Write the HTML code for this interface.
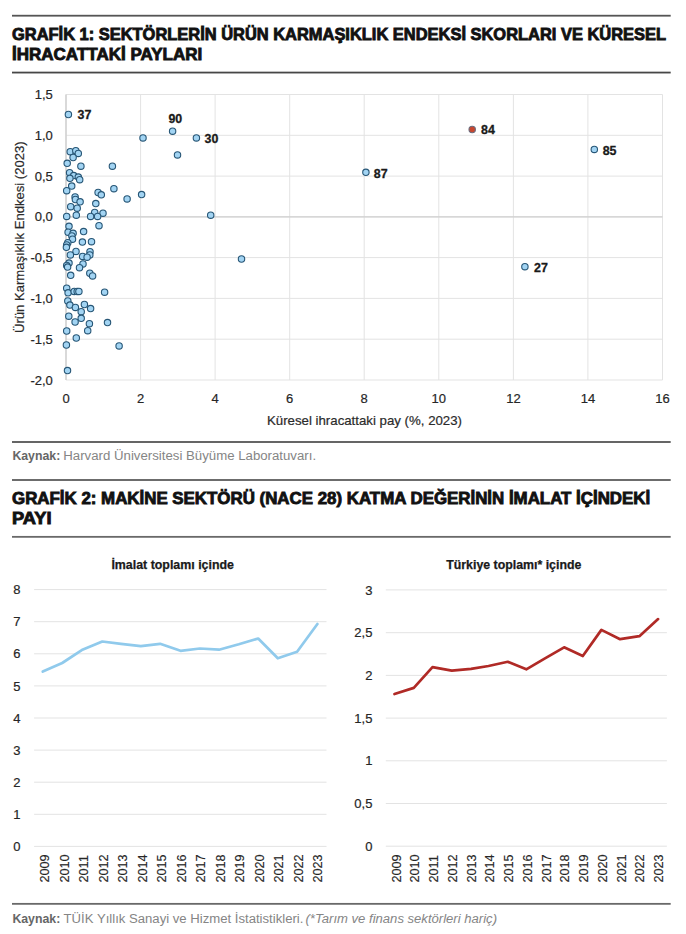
<!DOCTYPE html>
<html><head><meta charset="utf-8"><title>Grafik</title>
<style>
html,body{margin:0;padding:0;background:#fff;}
body{width:686px;height:934px;overflow:hidden;position:relative;font-family:"Liberation Sans",sans-serif;}
svg{position:absolute;left:0;top:0;}
</style></head><body>
<svg width="686" height="934" viewBox="0 0 686 934">

<rect x="12" y="14.80" width="658.7" height="1.8" fill="#555"/>
<rect x="12" y="71.66" width="658.7" height="1.8" fill="#474747"/>
<rect x="12" y="441.10" width="658.7" height="1.8" fill="#555"/>
<rect x="12" y="479.10" width="658.7" height="1.8" fill="#5c5c5c"/>
<rect x="12" y="535.95" width="658.7" height="1.8" fill="#696969"/>
<rect x="12" y="902.95" width="658.7" height="1.8" fill="#696969"/>
<text x="12" y="39.6" font-family="Liberation Sans, sans-serif" font-weight="bold" font-size="16.3" fill="#111" stroke="#111" stroke-width="0.85" textLength="654" lengthAdjust="spacingAndGlyphs">GRAFİK 1: SEKTÖRLERİN ÜRÜN KARMAŞIKLIK ENDEKSİ SKORLARI VE KÜRESEL</text>
<text x="12" y="59.6" font-family="Liberation Sans, sans-serif" font-weight="bold" font-size="16.3" fill="#111" stroke="#111" stroke-width="0.85" textLength="190.3" lengthAdjust="spacingAndGlyphs">İHRACATTAKİ PAYLARI</text>
<text x="12" y="504.1" font-family="Liberation Sans, sans-serif" font-weight="bold" font-size="16.3" fill="#111" stroke="#111" stroke-width="0.85" textLength="638.2" lengthAdjust="spacingAndGlyphs">GRAFİK 2: MAKİNE SEKTÖRÜ (NACE 28) KATMA DEĞERİNİN İMALAT İÇİNDEKİ</text>
<text x="12" y="524.4" font-family="Liberation Sans, sans-serif" font-weight="bold" font-size="16.3" fill="#111" stroke="#111" stroke-width="0.85" textLength="39.6" lengthAdjust="spacingAndGlyphs">PAYI</text>
<line x1="66.0" y1="94.5" x2="66.0" y2="380" stroke="#e3e3e3" stroke-width="1"/>
<line x1="140.6" y1="94.5" x2="140.6" y2="380" stroke="#e3e3e3" stroke-width="1"/>
<line x1="215.1" y1="94.5" x2="215.1" y2="380" stroke="#e3e3e3" stroke-width="1"/>
<line x1="289.7" y1="94.5" x2="289.7" y2="380" stroke="#e3e3e3" stroke-width="1"/>
<line x1="364.2" y1="94.5" x2="364.2" y2="380" stroke="#e3e3e3" stroke-width="1"/>
<line x1="438.8" y1="94.5" x2="438.8" y2="380" stroke="#e3e3e3" stroke-width="1"/>
<line x1="513.4" y1="94.5" x2="513.4" y2="380" stroke="#e3e3e3" stroke-width="1"/>
<line x1="587.9" y1="94.5" x2="587.9" y2="380" stroke="#e3e3e3" stroke-width="1"/>
<line x1="662.5" y1="94.5" x2="662.5" y2="380" stroke="#e3e3e3" stroke-width="1"/>
<line x1="66" y1="94.5" x2="662.5" y2="94.5" stroke="#e3e3e3" stroke-width="1"/>
<line x1="66" y1="135.3" x2="662.5" y2="135.3" stroke="#e3e3e3" stroke-width="1"/>
<line x1="66" y1="176.1" x2="662.5" y2="176.1" stroke="#e3e3e3" stroke-width="1"/>
<line x1="66" y1="216.9" x2="662.5" y2="216.9" stroke="#e3e3e3" stroke-width="1"/>
<line x1="66" y1="257.6" x2="662.5" y2="257.6" stroke="#e3e3e3" stroke-width="1"/>
<line x1="66" y1="298.4" x2="662.5" y2="298.4" stroke="#e3e3e3" stroke-width="1"/>
<line x1="66" y1="339.2" x2="662.5" y2="339.2" stroke="#e3e3e3" stroke-width="1"/>
<line x1="66" y1="380.0" x2="662.5" y2="380.0" stroke="#e3e3e3" stroke-width="1"/>
<line x1="66" y1="216.9" x2="662.5" y2="216.9" stroke="#cfcfcf" stroke-width="1.4"/>
<line x1="66" y1="94.5" x2="66" y2="380" stroke="#cfcfcf" stroke-width="1.4"/>
<text x="52.8" y="99.0" font-family="Liberation Sans, sans-serif" font-size="13" fill="#262626" stroke="#262626" stroke-width="0.2" text-anchor="end">1,5</text>
<text x="52.8" y="139.8" font-family="Liberation Sans, sans-serif" font-size="13" fill="#262626" stroke="#262626" stroke-width="0.2" text-anchor="end">1,0</text>
<text x="52.8" y="180.6" font-family="Liberation Sans, sans-serif" font-size="13" fill="#262626" stroke="#262626" stroke-width="0.2" text-anchor="end">0,5</text>
<text x="52.8" y="221.4" font-family="Liberation Sans, sans-serif" font-size="13" fill="#262626" stroke="#262626" stroke-width="0.2" text-anchor="end">0,0</text>
<text x="52.8" y="262.1" font-family="Liberation Sans, sans-serif" font-size="13" fill="#262626" stroke="#262626" stroke-width="0.2" text-anchor="end">-0,5</text>
<text x="52.8" y="302.9" font-family="Liberation Sans, sans-serif" font-size="13" fill="#262626" stroke="#262626" stroke-width="0.2" text-anchor="end">-1,0</text>
<text x="52.8" y="343.7" font-family="Liberation Sans, sans-serif" font-size="13" fill="#262626" stroke="#262626" stroke-width="0.2" text-anchor="end">-1,5</text>
<text x="52.8" y="384.5" font-family="Liberation Sans, sans-serif" font-size="13" fill="#262626" stroke="#262626" stroke-width="0.2" text-anchor="end">-2,0</text>
<text x="66.0" y="403.1" font-family="Liberation Sans, sans-serif" font-size="13" fill="#262626" stroke="#262626" stroke-width="0.2" text-anchor="middle">0</text>
<text x="140.6" y="403.1" font-family="Liberation Sans, sans-serif" font-size="13" fill="#262626" stroke="#262626" stroke-width="0.2" text-anchor="middle">2</text>
<text x="215.1" y="403.1" font-family="Liberation Sans, sans-serif" font-size="13" fill="#262626" stroke="#262626" stroke-width="0.2" text-anchor="middle">4</text>
<text x="289.7" y="403.1" font-family="Liberation Sans, sans-serif" font-size="13" fill="#262626" stroke="#262626" stroke-width="0.2" text-anchor="middle">6</text>
<text x="364.2" y="403.1" font-family="Liberation Sans, sans-serif" font-size="13" fill="#262626" stroke="#262626" stroke-width="0.2" text-anchor="middle">8</text>
<text x="438.8" y="403.1" font-family="Liberation Sans, sans-serif" font-size="13" fill="#262626" stroke="#262626" stroke-width="0.2" text-anchor="middle">10</text>
<text x="513.4" y="403.1" font-family="Liberation Sans, sans-serif" font-size="13" fill="#262626" stroke="#262626" stroke-width="0.2" text-anchor="middle">12</text>
<text x="587.9" y="403.1" font-family="Liberation Sans, sans-serif" font-size="13" fill="#262626" stroke="#262626" stroke-width="0.2" text-anchor="middle">14</text>
<text x="662.5" y="403.1" font-family="Liberation Sans, sans-serif" font-size="13" fill="#262626" stroke="#262626" stroke-width="0.2" text-anchor="middle">16</text>
<text x="267" y="424.9" font-family="Liberation Sans, sans-serif" font-size="13" fill="#2b2b2b" stroke="#2b2b2b" stroke-width="0.2" textLength="195" lengthAdjust="spacingAndGlyphs">Küresel ihracattaki pay (%, 2023)</text>
<text transform="translate(24.1,237.2) rotate(-90)" x="0" y="0" font-family="Liberation Sans, sans-serif" font-size="13" fill="#2b2b2b" stroke="#2b2b2b" stroke-width="0.2" text-anchor="middle" textLength="191.5" lengthAdjust="spacingAndGlyphs">Ürün Karmaşıklık Endkesi (2023)</text>
<circle cx="68.4" cy="114.5" r="3.2" fill="#a2d4f3" stroke="#275676" stroke-width="1.1"/>
<circle cx="143" cy="137.9" r="3.2" fill="#a2d4f3" stroke="#275676" stroke-width="1.1"/>
<circle cx="172.6" cy="131.2" r="3.2" fill="#a2d4f3" stroke="#275676" stroke-width="1.1"/>
<circle cx="196.4" cy="137.9" r="3.2" fill="#a2d4f3" stroke="#275676" stroke-width="1.1"/>
<circle cx="177.5" cy="154.9" r="3.2" fill="#a2d4f3" stroke="#275676" stroke-width="1.1"/>
<circle cx="141.6" cy="194.6" r="3.2" fill="#a2d4f3" stroke="#275676" stroke-width="1.1"/>
<circle cx="127.1" cy="198.9" r="3.2" fill="#a2d4f3" stroke="#275676" stroke-width="1.1"/>
<circle cx="210.7" cy="215.2" r="3.2" fill="#a2d4f3" stroke="#275676" stroke-width="1.1"/>
<circle cx="241.5" cy="259" r="3.2" fill="#a2d4f3" stroke="#275676" stroke-width="1.1"/>
<circle cx="365.9" cy="172.3" r="3.2" fill="#a2d4f3" stroke="#275676" stroke-width="1.1"/>
<circle cx="594.3" cy="149.4" r="3.2" fill="#a2d4f3" stroke="#275676" stroke-width="1.1"/>
<circle cx="524.9" cy="266.7" r="3.2" fill="#a2d4f3" stroke="#275676" stroke-width="1.1"/>
<circle cx="70.2" cy="151.7" r="3.2" fill="#a2d4f3" stroke="#275676" stroke-width="1.1"/>
<circle cx="75.8" cy="150.7" r="3.2" fill="#a2d4f3" stroke="#275676" stroke-width="1.1"/>
<circle cx="78.3" cy="153.4" r="3.2" fill="#a2d4f3" stroke="#275676" stroke-width="1.1"/>
<circle cx="73.1" cy="157.5" r="3.2" fill="#a2d4f3" stroke="#275676" stroke-width="1.1"/>
<circle cx="67.2" cy="163.3" r="3.2" fill="#a2d4f3" stroke="#275676" stroke-width="1.1"/>
<circle cx="80.9" cy="166.2" r="3.2" fill="#a2d4f3" stroke="#275676" stroke-width="1.1"/>
<circle cx="112.4" cy="166.2" r="3.2" fill="#a2d4f3" stroke="#275676" stroke-width="1.1"/>
<circle cx="69.6" cy="172.7" r="3.2" fill="#a2d4f3" stroke="#275676" stroke-width="1.1"/>
<circle cx="73.7" cy="175.6" r="3.2" fill="#a2d4f3" stroke="#275676" stroke-width="1.1"/>
<circle cx="69.9" cy="178.3" r="3.2" fill="#a2d4f3" stroke="#275676" stroke-width="1.1"/>
<circle cx="78.3" cy="177.1" r="3.2" fill="#a2d4f3" stroke="#275676" stroke-width="1.1"/>
<circle cx="79.7" cy="179.7" r="3.2" fill="#a2d4f3" stroke="#275676" stroke-width="1.1"/>
<circle cx="71.7" cy="186.1" r="3.2" fill="#a2d4f3" stroke="#275676" stroke-width="1.1"/>
<circle cx="66.7" cy="190.7" r="3.2" fill="#a2d4f3" stroke="#275676" stroke-width="1.1"/>
<circle cx="113.9" cy="188.7" r="3.2" fill="#a2d4f3" stroke="#275676" stroke-width="1.1"/>
<circle cx="98.1" cy="192.5" r="3.2" fill="#a2d4f3" stroke="#275676" stroke-width="1.1"/>
<circle cx="101.3" cy="194.8" r="3.2" fill="#a2d4f3" stroke="#275676" stroke-width="1.1"/>
<circle cx="75.1" cy="196.9" r="3.2" fill="#a2d4f3" stroke="#275676" stroke-width="1.1"/>
<circle cx="75.4" cy="199.5" r="3.2" fill="#a2d4f3" stroke="#275676" stroke-width="1.1"/>
<circle cx="80.1" cy="201.8" r="3.2" fill="#a2d4f3" stroke="#275676" stroke-width="1.1"/>
<circle cx="95.8" cy="203.6" r="3.2" fill="#a2d4f3" stroke="#275676" stroke-width="1.1"/>
<circle cx="70.7" cy="206.7" r="3.2" fill="#a2d4f3" stroke="#275676" stroke-width="1.1"/>
<circle cx="77.2" cy="208.2" r="3.2" fill="#a2d4f3" stroke="#275676" stroke-width="1.1"/>
<circle cx="76.3" cy="215.2" r="3.2" fill="#a2d4f3" stroke="#275676" stroke-width="1.1"/>
<circle cx="66.7" cy="216.4" r="3.2" fill="#a2d4f3" stroke="#275676" stroke-width="1.1"/>
<circle cx="94.7" cy="212.5" r="3.2" fill="#a2d4f3" stroke="#275676" stroke-width="1.1"/>
<circle cx="103" cy="213.2" r="3.2" fill="#a2d4f3" stroke="#275676" stroke-width="1.1"/>
<circle cx="90.6" cy="216.4" r="3.2" fill="#a2d4f3" stroke="#275676" stroke-width="1.1"/>
<circle cx="97.6" cy="216.4" r="3.2" fill="#a2d4f3" stroke="#275676" stroke-width="1.1"/>
<circle cx="69" cy="226.3" r="3.2" fill="#a2d4f3" stroke="#275676" stroke-width="1.1"/>
<circle cx="99" cy="225.7" r="3.2" fill="#a2d4f3" stroke="#275676" stroke-width="1.1"/>
<circle cx="68.1" cy="232.2" r="3.2" fill="#a2d4f3" stroke="#275676" stroke-width="1.1"/>
<circle cx="73.1" cy="233.3" r="3.2" fill="#a2d4f3" stroke="#275676" stroke-width="1.1"/>
<circle cx="71.9" cy="235.9" r="3.2" fill="#a2d4f3" stroke="#275676" stroke-width="1.1"/>
<circle cx="83.6" cy="231.6" r="3.2" fill="#a2d4f3" stroke="#275676" stroke-width="1.1"/>
<circle cx="72.5" cy="239.2" r="3.2" fill="#a2d4f3" stroke="#275676" stroke-width="1.1"/>
<circle cx="67.8" cy="242.7" r="3.2" fill="#a2d4f3" stroke="#275676" stroke-width="1.1"/>
<circle cx="66.7" cy="245" r="3.2" fill="#a2d4f3" stroke="#275676" stroke-width="1.1"/>
<circle cx="66.4" cy="247.3" r="3.2" fill="#a2d4f3" stroke="#275676" stroke-width="1.1"/>
<circle cx="82.4" cy="242.1" r="3.2" fill="#a2d4f3" stroke="#275676" stroke-width="1.1"/>
<circle cx="91.5" cy="241.7" r="3.2" fill="#a2d4f3" stroke="#275676" stroke-width="1.1"/>
<circle cx="76" cy="251.4" r="3.2" fill="#a2d4f3" stroke="#275676" stroke-width="1.1"/>
<circle cx="70.4" cy="254.9" r="3.2" fill="#a2d4f3" stroke="#275676" stroke-width="1.1"/>
<circle cx="90" cy="251.7" r="3.2" fill="#a2d4f3" stroke="#275676" stroke-width="1.1"/>
<circle cx="89.8" cy="254.9" r="3.2" fill="#a2d4f3" stroke="#275676" stroke-width="1.1"/>
<circle cx="82.6" cy="256.4" r="3.2" fill="#a2d4f3" stroke="#275676" stroke-width="1.1"/>
<circle cx="87.1" cy="257.2" r="3.2" fill="#a2d4f3" stroke="#275676" stroke-width="1.1"/>
<circle cx="69" cy="263.1" r="3.2" fill="#a2d4f3" stroke="#275676" stroke-width="1.1"/>
<circle cx="66.7" cy="265.4" r="3.2" fill="#a2d4f3" stroke="#275676" stroke-width="1.1"/>
<circle cx="67.6" cy="267.1" r="3.2" fill="#a2d4f3" stroke="#275676" stroke-width="1.1"/>
<circle cx="83" cy="263.9" r="3.2" fill="#a2d4f3" stroke="#275676" stroke-width="1.1"/>
<circle cx="79.5" cy="267.7" r="3.2" fill="#a2d4f3" stroke="#275676" stroke-width="1.1"/>
<circle cx="70.7" cy="275.3" r="3.2" fill="#a2d4f3" stroke="#275676" stroke-width="1.1"/>
<circle cx="89.8" cy="273.2" r="3.2" fill="#a2d4f3" stroke="#275676" stroke-width="1.1"/>
<circle cx="92.6" cy="275.9" r="3.2" fill="#a2d4f3" stroke="#275676" stroke-width="1.1"/>
<circle cx="66.7" cy="288.2" r="3.2" fill="#a2d4f3" stroke="#275676" stroke-width="1.1"/>
<circle cx="68.1" cy="292.8" r="3.2" fill="#a2d4f3" stroke="#275676" stroke-width="1.1"/>
<circle cx="74.2" cy="291.4" r="3.2" fill="#a2d4f3" stroke="#275676" stroke-width="1.1"/>
<circle cx="77.2" cy="291.4" r="3.2" fill="#a2d4f3" stroke="#275676" stroke-width="1.1"/>
<circle cx="78.9" cy="291.4" r="3.2" fill="#a2d4f3" stroke="#275676" stroke-width="1.1"/>
<circle cx="104.6" cy="292.2" r="3.2" fill="#a2d4f3" stroke="#275676" stroke-width="1.1"/>
<circle cx="67.8" cy="301" r="3.2" fill="#a2d4f3" stroke="#275676" stroke-width="1.1"/>
<circle cx="69.9" cy="305.1" r="3.2" fill="#a2d4f3" stroke="#275676" stroke-width="1.1"/>
<circle cx="75.4" cy="307.4" r="3.2" fill="#a2d4f3" stroke="#275676" stroke-width="1.1"/>
<circle cx="84.4" cy="304.5" r="3.2" fill="#a2d4f3" stroke="#275676" stroke-width="1.1"/>
<circle cx="90.6" cy="308.6" r="3.2" fill="#a2d4f3" stroke="#275676" stroke-width="1.1"/>
<circle cx="81.2" cy="311.7" r="3.2" fill="#a2d4f3" stroke="#275676" stroke-width="1.1"/>
<circle cx="68.8" cy="316.2" r="3.2" fill="#a2d4f3" stroke="#275676" stroke-width="1.1"/>
<circle cx="81.2" cy="318.3" r="3.2" fill="#a2d4f3" stroke="#275676" stroke-width="1.1"/>
<circle cx="75.1" cy="322" r="3.2" fill="#a2d4f3" stroke="#275676" stroke-width="1.1"/>
<circle cx="89.4" cy="323.7" r="3.2" fill="#a2d4f3" stroke="#275676" stroke-width="1.1"/>
<circle cx="107.5" cy="322.6" r="3.2" fill="#a2d4f3" stroke="#275676" stroke-width="1.1"/>
<circle cx="66.7" cy="331" r="3.2" fill="#a2d4f3" stroke="#275676" stroke-width="1.1"/>
<circle cx="87.7" cy="330.7" r="3.2" fill="#a2d4f3" stroke="#275676" stroke-width="1.1"/>
<circle cx="76.3" cy="338" r="3.2" fill="#a2d4f3" stroke="#275676" stroke-width="1.1"/>
<circle cx="66.4" cy="345" r="3.2" fill="#a2d4f3" stroke="#275676" stroke-width="1.1"/>
<circle cx="119.1" cy="345.9" r="3.2" fill="#a2d4f3" stroke="#275676" stroke-width="1.1"/>
<circle cx="67.5" cy="370.6" r="3.2" fill="#a2d4f3" stroke="#275676" stroke-width="1.1"/>
<circle cx="472.2" cy="129.5" r="3.2" fill="#c8462e" stroke="#6b6b7d" stroke-width="1.1"/>
<text x="77.5" y="119.4" font-family="Liberation Sans, sans-serif" font-weight="bold" font-size="12.5" fill="#1a1a1a" stroke="#1a1a1a" stroke-width="0.3" textLength="13.8" lengthAdjust="spacingAndGlyphs">37</text>
<text x="168.4" y="122.8" font-family="Liberation Sans, sans-serif" font-weight="bold" font-size="12.5" fill="#1a1a1a" stroke="#1a1a1a" stroke-width="0.3" textLength="13.8" lengthAdjust="spacingAndGlyphs">90</text>
<text x="204.6" y="143.1" font-family="Liberation Sans, sans-serif" font-weight="bold" font-size="12.5" fill="#1a1a1a" stroke="#1a1a1a" stroke-width="0.3" textLength="13.8" lengthAdjust="spacingAndGlyphs">30</text>
<text x="373.8" y="177.6" font-family="Liberation Sans, sans-serif" font-weight="bold" font-size="12.5" fill="#1a1a1a" stroke="#1a1a1a" stroke-width="0.3" textLength="13.8" lengthAdjust="spacingAndGlyphs">87</text>
<text x="481" y="133.8" font-family="Liberation Sans, sans-serif" font-weight="bold" font-size="12.5" fill="#1a1a1a" stroke="#1a1a1a" stroke-width="0.3" textLength="13.8" lengthAdjust="spacingAndGlyphs">84</text>
<text x="602.7" y="154.5" font-family="Liberation Sans, sans-serif" font-weight="bold" font-size="12.5" fill="#1a1a1a" stroke="#1a1a1a" stroke-width="0.3" textLength="13.8" lengthAdjust="spacingAndGlyphs">85</text>
<text x="534" y="271.8" font-family="Liberation Sans, sans-serif" font-weight="bold" font-size="12.5" fill="#1a1a1a" stroke="#1a1a1a" stroke-width="0.3" textLength="13.8" lengthAdjust="spacingAndGlyphs">27</text>
<text x="12.4" y="460.1" font-family="Liberation Sans, sans-serif" font-weight="bold" font-size="12.3" fill="#666">Kaynak:</text>
<text x="63.3" y="460.1" font-family="Liberation Sans, sans-serif" font-size="12.5" fill="#858585" textLength="252.8" lengthAdjust="spacingAndGlyphs">Harvard Üniversitesi Büyüme Laboratuvarı.</text>
<text x="172.7" y="568.6" font-family="Liberation Sans, sans-serif" font-weight="bold" font-size="12.4" fill="#1a1a1a" stroke="#1a1a1a" stroke-width="0.25" text-anchor="middle">İmalat toplamı içinde</text>
<text x="513.8" y="569.3" font-family="Liberation Sans, sans-serif" font-weight="bold" font-size="12.35" fill="#1a1a1a" stroke="#1a1a1a" stroke-width="0.25" text-anchor="middle">Türkiye toplamı* içinde</text>
<line x1="34.1" y1="846.4" x2="326.5" y2="846.4" stroke="#e3e3e3" stroke-width="1"/>
<text x="20.5" y="851.0" font-family="Liberation Sans, sans-serif" font-size="13" fill="#262626" stroke="#262626" stroke-width="0.2" text-anchor="end">0</text>
<line x1="34.1" y1="814.3" x2="326.5" y2="814.3" stroke="#e3e3e3" stroke-width="1"/>
<text x="20.5" y="818.9" font-family="Liberation Sans, sans-serif" font-size="13" fill="#262626" stroke="#262626" stroke-width="0.2" text-anchor="end">1</text>
<line x1="34.1" y1="782.2" x2="326.5" y2="782.2" stroke="#e3e3e3" stroke-width="1"/>
<text x="20.5" y="786.8" font-family="Liberation Sans, sans-serif" font-size="13" fill="#262626" stroke="#262626" stroke-width="0.2" text-anchor="end">2</text>
<line x1="34.1" y1="750.1" x2="326.5" y2="750.1" stroke="#e3e3e3" stroke-width="1"/>
<text x="20.5" y="754.7" font-family="Liberation Sans, sans-serif" font-size="13" fill="#262626" stroke="#262626" stroke-width="0.2" text-anchor="end">3</text>
<line x1="34.1" y1="718.0" x2="326.5" y2="718.0" stroke="#e3e3e3" stroke-width="1"/>
<text x="20.5" y="722.6" font-family="Liberation Sans, sans-serif" font-size="13" fill="#262626" stroke="#262626" stroke-width="0.2" text-anchor="end">4</text>
<line x1="34.1" y1="685.9" x2="326.5" y2="685.9" stroke="#e3e3e3" stroke-width="1"/>
<text x="20.5" y="690.5" font-family="Liberation Sans, sans-serif" font-size="13" fill="#262626" stroke="#262626" stroke-width="0.2" text-anchor="end">5</text>
<line x1="34.1" y1="653.8" x2="326.5" y2="653.8" stroke="#e3e3e3" stroke-width="1"/>
<text x="20.5" y="658.4" font-family="Liberation Sans, sans-serif" font-size="13" fill="#262626" stroke="#262626" stroke-width="0.2" text-anchor="end">6</text>
<line x1="34.1" y1="621.7" x2="326.5" y2="621.7" stroke="#e3e3e3" stroke-width="1"/>
<text x="20.5" y="626.3" font-family="Liberation Sans, sans-serif" font-size="13" fill="#262626" stroke="#262626" stroke-width="0.2" text-anchor="end">7</text>
<line x1="34.1" y1="589.6" x2="326.5" y2="589.6" stroke="#e3e3e3" stroke-width="1"/>
<text x="20.5" y="594.2" font-family="Liberation Sans, sans-serif" font-size="13" fill="#262626" stroke="#262626" stroke-width="0.2" text-anchor="end">8</text>
<line x1="385.8" y1="846.2" x2="666.9" y2="846.2" stroke="#e3e3e3" stroke-width="1"/>
<text x="372.4" y="850.8" font-family="Liberation Sans, sans-serif" font-size="13" fill="#262626" stroke="#262626" stroke-width="0.2" text-anchor="end">0</text>
<line x1="385.8" y1="803.5" x2="666.9" y2="803.5" stroke="#e3e3e3" stroke-width="1"/>
<text x="372.4" y="808.1" font-family="Liberation Sans, sans-serif" font-size="13" fill="#262626" stroke="#262626" stroke-width="0.2" text-anchor="end">0,5</text>
<line x1="385.8" y1="760.8" x2="666.9" y2="760.8" stroke="#e3e3e3" stroke-width="1"/>
<text x="372.4" y="765.4" font-family="Liberation Sans, sans-serif" font-size="13" fill="#262626" stroke="#262626" stroke-width="0.2" text-anchor="end">1</text>
<line x1="385.8" y1="718.1" x2="666.9" y2="718.1" stroke="#e3e3e3" stroke-width="1"/>
<text x="372.4" y="722.7" font-family="Liberation Sans, sans-serif" font-size="13" fill="#262626" stroke="#262626" stroke-width="0.2" text-anchor="end">1,5</text>
<line x1="385.8" y1="675.4" x2="666.9" y2="675.4" stroke="#e3e3e3" stroke-width="1"/>
<text x="372.4" y="680.0" font-family="Liberation Sans, sans-serif" font-size="13" fill="#262626" stroke="#262626" stroke-width="0.2" text-anchor="end">2</text>
<line x1="385.8" y1="632.7" x2="666.9" y2="632.7" stroke="#e3e3e3" stroke-width="1"/>
<text x="372.4" y="637.3" font-family="Liberation Sans, sans-serif" font-size="13" fill="#262626" stroke="#262626" stroke-width="0.2" text-anchor="end">2,5</text>
<line x1="385.8" y1="589.9" x2="666.9" y2="589.9" stroke="#e3e3e3" stroke-width="1"/>
<text x="372.4" y="594.5" font-family="Liberation Sans, sans-serif" font-size="13" fill="#262626" stroke="#262626" stroke-width="0.2" text-anchor="end">3</text>
<text transform="translate(49.2,882.6) rotate(-90)" x="0" y="0" font-family="Liberation Sans, sans-serif" font-size="12.7" fill="#262626" stroke="#262626" stroke-width="0.15">2009</text>
<text transform="translate(400.6,882.6) rotate(-90)" x="0" y="0" font-family="Liberation Sans, sans-serif" font-size="12.7" fill="#262626" stroke="#262626" stroke-width="0.15">2009</text>
<text transform="translate(68.7,882.6) rotate(-90)" x="0" y="0" font-family="Liberation Sans, sans-serif" font-size="12.7" fill="#262626" stroke="#262626" stroke-width="0.15">2010</text>
<text transform="translate(419.3,882.6) rotate(-90)" x="0" y="0" font-family="Liberation Sans, sans-serif" font-size="12.7" fill="#262626" stroke="#262626" stroke-width="0.15">2010</text>
<text transform="translate(88.2,882.6) rotate(-90)" x="0" y="0" font-family="Liberation Sans, sans-serif" font-size="12.7" fill="#262626" stroke="#262626" stroke-width="0.15">2011</text>
<text transform="translate(438.1,882.6) rotate(-90)" x="0" y="0" font-family="Liberation Sans, sans-serif" font-size="12.7" fill="#262626" stroke="#262626" stroke-width="0.15">2011</text>
<text transform="translate(107.7,882.6) rotate(-90)" x="0" y="0" font-family="Liberation Sans, sans-serif" font-size="12.7" fill="#262626" stroke="#262626" stroke-width="0.15">2012</text>
<text transform="translate(456.8,882.6) rotate(-90)" x="0" y="0" font-family="Liberation Sans, sans-serif" font-size="12.7" fill="#262626" stroke="#262626" stroke-width="0.15">2012</text>
<text transform="translate(127.2,882.6) rotate(-90)" x="0" y="0" font-family="Liberation Sans, sans-serif" font-size="12.7" fill="#262626" stroke="#262626" stroke-width="0.15">2013</text>
<text transform="translate(475.5,882.6) rotate(-90)" x="0" y="0" font-family="Liberation Sans, sans-serif" font-size="12.7" fill="#262626" stroke="#262626" stroke-width="0.15">2013</text>
<text transform="translate(146.7,882.6) rotate(-90)" x="0" y="0" font-family="Liberation Sans, sans-serif" font-size="12.7" fill="#262626" stroke="#262626" stroke-width="0.15">2014</text>
<text transform="translate(494.3,882.6) rotate(-90)" x="0" y="0" font-family="Liberation Sans, sans-serif" font-size="12.7" fill="#262626" stroke="#262626" stroke-width="0.15">2014</text>
<text transform="translate(166.2,882.6) rotate(-90)" x="0" y="0" font-family="Liberation Sans, sans-serif" font-size="12.7" fill="#262626" stroke="#262626" stroke-width="0.15">2015</text>
<text transform="translate(513.0,882.6) rotate(-90)" x="0" y="0" font-family="Liberation Sans, sans-serif" font-size="12.7" fill="#262626" stroke="#262626" stroke-width="0.15">2015</text>
<text transform="translate(185.7,882.6) rotate(-90)" x="0" y="0" font-family="Liberation Sans, sans-serif" font-size="12.7" fill="#262626" stroke="#262626" stroke-width="0.15">2016</text>
<text transform="translate(531.8,882.6) rotate(-90)" x="0" y="0" font-family="Liberation Sans, sans-serif" font-size="12.7" fill="#262626" stroke="#262626" stroke-width="0.15">2016</text>
<text transform="translate(205.2,882.6) rotate(-90)" x="0" y="0" font-family="Liberation Sans, sans-serif" font-size="12.7" fill="#262626" stroke="#262626" stroke-width="0.15">2017</text>
<text transform="translate(550.5,882.6) rotate(-90)" x="0" y="0" font-family="Liberation Sans, sans-serif" font-size="12.7" fill="#262626" stroke="#262626" stroke-width="0.15">2017</text>
<text transform="translate(224.7,882.6) rotate(-90)" x="0" y="0" font-family="Liberation Sans, sans-serif" font-size="12.7" fill="#262626" stroke="#262626" stroke-width="0.15">2018</text>
<text transform="translate(569.2,882.6) rotate(-90)" x="0" y="0" font-family="Liberation Sans, sans-serif" font-size="12.7" fill="#262626" stroke="#262626" stroke-width="0.15">2018</text>
<text transform="translate(244.2,882.6) rotate(-90)" x="0" y="0" font-family="Liberation Sans, sans-serif" font-size="12.7" fill="#262626" stroke="#262626" stroke-width="0.15">2019</text>
<text transform="translate(588.0,882.6) rotate(-90)" x="0" y="0" font-family="Liberation Sans, sans-serif" font-size="12.7" fill="#262626" stroke="#262626" stroke-width="0.15">2019</text>
<text transform="translate(263.7,882.6) rotate(-90)" x="0" y="0" font-family="Liberation Sans, sans-serif" font-size="12.7" fill="#262626" stroke="#262626" stroke-width="0.15">2020</text>
<text transform="translate(606.7,882.6) rotate(-90)" x="0" y="0" font-family="Liberation Sans, sans-serif" font-size="12.7" fill="#262626" stroke="#262626" stroke-width="0.15">2020</text>
<text transform="translate(283.2,882.6) rotate(-90)" x="0" y="0" font-family="Liberation Sans, sans-serif" font-size="12.7" fill="#262626" stroke="#262626" stroke-width="0.15">2021</text>
<text transform="translate(625.5,882.6) rotate(-90)" x="0" y="0" font-family="Liberation Sans, sans-serif" font-size="12.7" fill="#262626" stroke="#262626" stroke-width="0.15">2021</text>
<text transform="translate(302.7,882.6) rotate(-90)" x="0" y="0" font-family="Liberation Sans, sans-serif" font-size="12.7" fill="#262626" stroke="#262626" stroke-width="0.15">2022</text>
<text transform="translate(644.2,882.6) rotate(-90)" x="0" y="0" font-family="Liberation Sans, sans-serif" font-size="12.7" fill="#262626" stroke="#262626" stroke-width="0.15">2022</text>
<text transform="translate(322.2,882.6) rotate(-90)" x="0" y="0" font-family="Liberation Sans, sans-serif" font-size="12.7" fill="#262626" stroke="#262626" stroke-width="0.15">2023</text>
<text transform="translate(662.9,882.6) rotate(-90)" x="0" y="0" font-family="Liberation Sans, sans-serif" font-size="12.7" fill="#262626" stroke="#262626" stroke-width="0.15">2023</text>
<polyline points="42.8,671.6 62.2,663 81.8,650.1 102.3,641.5 121,643.8 140.8,646.2 160.1,643.8 180.5,650.8 199.9,648.5 219,649.7 238.8,644.3 258.2,638.5 277.8,658.3 297.1,651.8 317.4,624" fill="none" stroke="#90caec" stroke-width="2.7" stroke-linejoin="round" stroke-linecap="round"/>
<polyline points="394.5,694 413.8,687.9 432.5,667.2 451.8,670.7 471,668.8 488.5,666 507.8,661.8 526.3,669.3 545,658.3 564.1,647.3 582.8,656 601.4,629.9 620.1,639.2 639.4,636.2 658.1,619.1" fill="none" stroke="#b02a26" stroke-width="2.7" stroke-linejoin="round" stroke-linecap="round"/>
<text x="12.4" y="922.6" font-family="Liberation Sans, sans-serif" font-weight="bold" font-size="12.3" fill="#666">Kaynak:</text>
<text x="63.6" y="922.6" font-family="Liberation Sans, sans-serif" font-size="12.5" fill="#858585" textLength="239.8" lengthAdjust="spacingAndGlyphs">TÜİK Yıllık Sanayi ve Hizmet İstatistikleri.</text>
<text x="305.5" y="922.6" font-family="Liberation Sans, sans-serif" font-style="italic" font-size="12.5" fill="#858585" textLength="191.5" lengthAdjust="spacingAndGlyphs">(*Tarım ve finans sektörleri hariç)</text>
</svg>
</body></html>
